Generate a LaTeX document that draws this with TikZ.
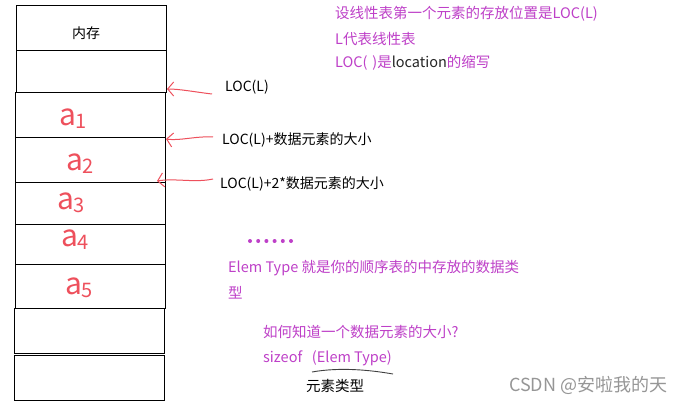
\documentclass[tikz,border=0pt]{standalone}
\usepackage{fontspec}
\setmainfont{Noto Sans CJK SC}
\usetikzlibrary{arrows.meta}
\definecolor{pur}{RGB}{190,64,200}
\definecolor{hand}{RGB}{238,80,92}
\definecolor{wm}{RGB}{150,150,150}
\tikzset{
  cell/.style={draw=black, line width=1.2pt, minimum width=150pt, inner sep=0pt, anchor=north west},
  lbl/.style={anchor=west, inner sep=0pt, font=\fontsize{14}{16}\selectfont, text=black},
  note/.style={anchor=west, inner sep=0pt, font=\fontsize{14.5}{17}\selectfont, text=pur},
  hw/.style={text=hand, inner sep=0pt, font=\fontsize{30}{32}\selectfont},
  ptr/.style={draw=hand, line width=1pt, -{Straight Barb[length=6pt,width=14pt]}},
}
\newcommand{\hwd}[1]{\raisebox{-3pt}{\fontsize{20}{22}\selectfont #1}}
\begin{document}
\begin{tikzpicture}[x=1pt,y=-1pt]
\useasboundingbox (0,0) rectangle (696,409);
\fill[white] (0,0) rectangle (696,409);
% memory cells
\node[cell, minimum height=45pt] (m0) at (16,5) {};
\node[cell, minimum height=42pt] (m1) at (16,50) {};
\node[cell, minimum height=45pt] (m2) at (15,92) {};
\node[cell, minimum height=45pt] (m3) at (15,137) {};
\node[cell, minimum height=42pt] (m4) at (15,182) {};
\node[cell, minimum height=40pt] (m5) at (15,224) {};
\node[cell, minimum height=44pt] (m6) at (15,264) {};
\node[cell, minimum height=45pt] (m7) at (14,308) {};
\node[cell, minimum height=45pt] (m8) at (14,355) {};
\node[font=\fontsize{14}{16}\selectfont] (nc) at (86,33) {内存};
% handwritten element names
\node[hw] (a1) at (73,119) {a\hwd{1}};
\node[hw] (a2) at (80,164) {a\hwd{2}};
\node[hw] (a3) at (71,203) {a\hwd{3}};
\node[hw] (a4) at (75,240) {a\hwd{4}};
\node[hw] (a5) at (79,288) {a\hwd{5}};
% labels
\node[lbl] (l1) at (225,87) {LOC(L)};
\node[lbl] (l2) at (222,140) {LOC(L)+数据元素的大小};
\node[lbl] (l3) at (220,184) {LOC(L)+2*数据元素的大小};
% pointers
\coordinate (t1) at (167,89);
\coordinate (t2) at (166,139);
\coordinate (t3) at (157,181);
\draw[ptr] (212,94) .. controls (195,92) and (180,89) .. (t1);
\draw[ptr] (213,137) .. controls (195,136) and (180,141) .. (t2);
\draw[ptr] (213,179) .. controls (195,183) and (175,178) .. (t3);
% notes
\node[note] (n1) at (335,14) {设线性表第一个元素的存放位置是LOC(L)};
\node[note] (n2) at (335,39) {L代表线性表};
\node[note] (n3) at (335,63) {LOC(\,\,)是\textcolor{black!85}{location}的缩写};
\foreach \i in {0,...,5} \fill[pur] (250+8.2*\i,241) circle (2pt);
\node[note] (n4) at (228,268) {Elem Type 就是你的顺序表的中存放的数据类};
\node[note] (n5) at (228,293) {型};
\node[note] (n6) at (263,332) {如何知道一个数据元素的大小?};
\node[note] (n7) at (263,358) {sizeof\ \ \ (Elem Type)};
\draw[black!75, line width=0.9pt] (312,372) .. controls (340,367) and (370,370) .. (393,374);
\node[lbl, font=\fontsize{14.5}{16}\selectfont] (n8) at (306,386) {元素类型};
\node[anchor=west, inner sep=0pt, text=wm, font=\fontsize{18}{20}\selectfont] (wm) at (509,385) {CSDN @安啦我的天};
\end{tikzpicture}
\end{document}
